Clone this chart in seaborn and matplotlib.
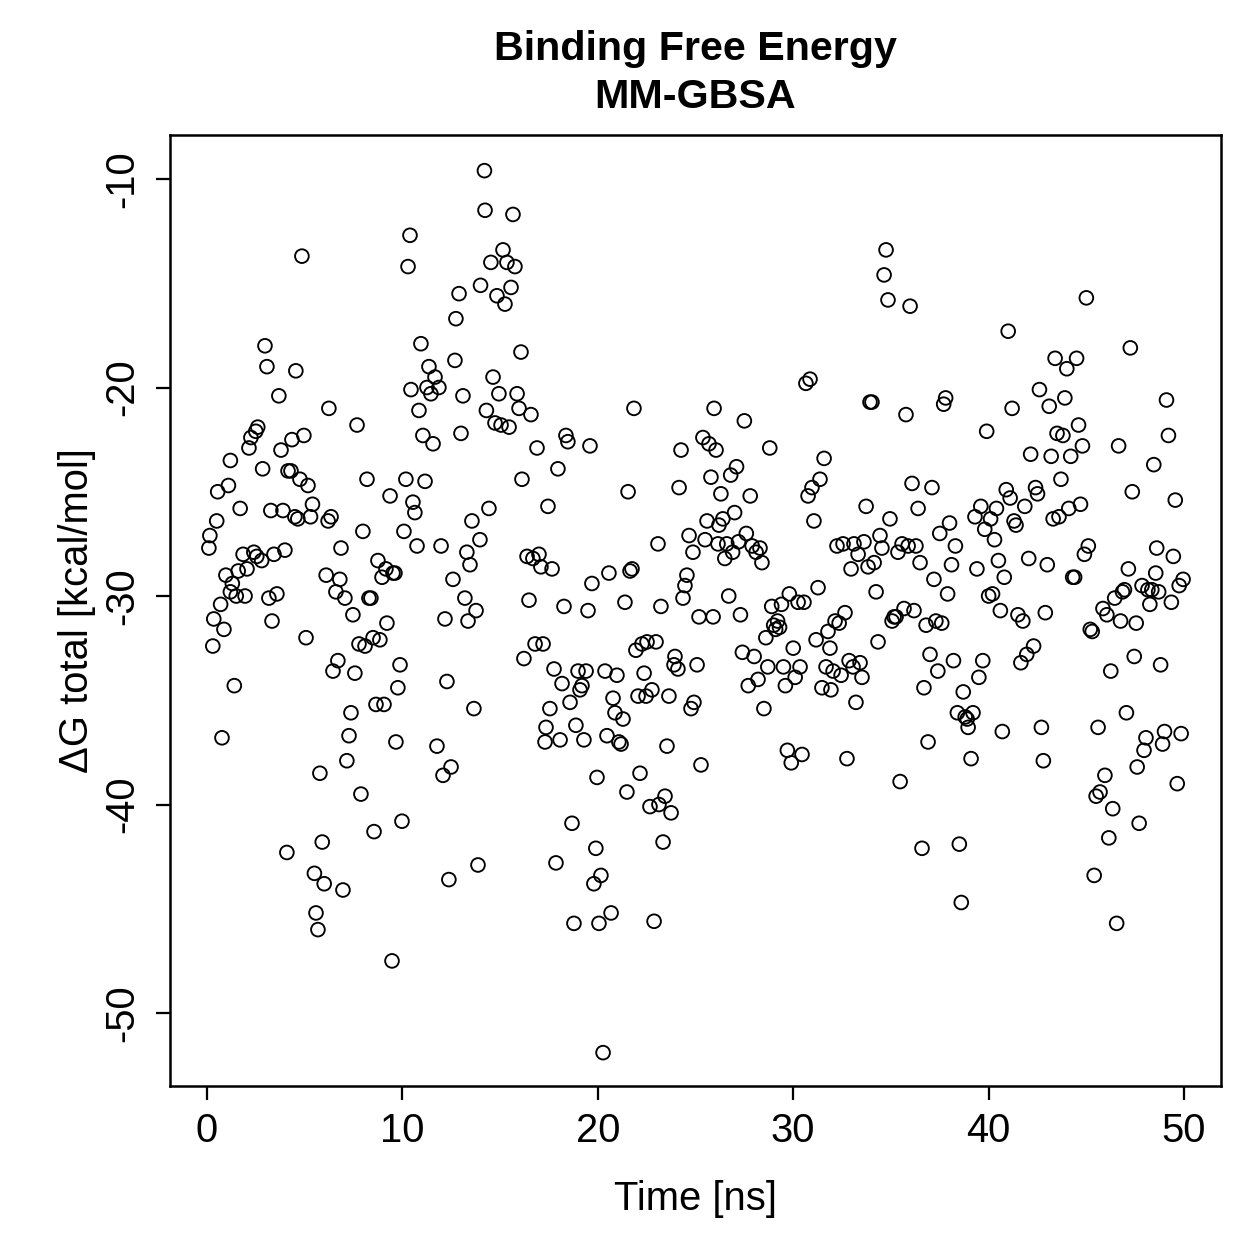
import matplotlib
matplotlib.use("Agg")
import matplotlib.pyplot as plt
import seaborn as sns
import pandas as pd

time_ns = [0.1, 0.15, 0.3, 0.35, 0.5, 0.55, 0.7, 0.77, 0.87, 0.97, 1.1, 1.2, 1.2, 1.3, 1.4, 1.5, 1.6, 1.7, 1.85, 1.95,
           2.05, 2.15, 2.25, 2.4, 2.5, 2.6, 2.55, 2.8, 2.85, 2.97, 3.07, 3.17, 3.27, 3.33, 3.43, 3.58, 3.68, 3.79, 3.89, 3.99,
           4.09, 4.15, 4.3, 4.35, 4.5, 4.55, 4.65, 4.76, 4.86, 4.96, 5.07, 5.17, 5.3, 5.4, 5.5, 5.58, 5.68, 5.78, 5.9, 6.0,
           6.1, 6.24, 6.2, 6.35, 6.45, 6.6, 6.7, 6.8, 6.86, 6.96, 7.06, 7.16, 7.27, 7.37, 7.47, 7.57, 7.68, 7.78, 7.88, 7.98,
           8.09, 8.19, 8.29, 8.39, 8.5, 8.55, 8.65, 8.75, 8.85, 8.96, 9.06, 9.16, 9.21, 9.37, 9.47, 9.52, 9.62, 9.67, 9.77, 9.88,
           9.98, 10.08, 10.18, 10.29, 10.39, 10.44, 10.54, 10.64, 10.75, 10.85, 10.95, 11.05, 11.16, 11.26, 11.36, 11.46, 11.57, 11.67, 11.77, 11.87,
           11.98, 12.08, 12.18, 12.28, 12.38, 12.49, 12.59, 12.69, 12.74, 12.9, 13.0, 13.1, 13.2, 13.3, 13.36, 13.46, 13.56, 13.66, 13.77, 13.87,
           13.97, 14.0, 14.2, 14.23, 14.3, 14.43, 14.53, 14.64, 14.74, 14.84, 14.94, 15.05, 15.15, 15.25, 15.35, 15.46, 15.56, 15.66, 15.76, 15.87,
           15.97, 16.07, 16.12, 16.22, 16.38, 16.48, 16.58, 16.68, 16.79, 16.89, 16.99, 17.09, 17.2, 17.3, 17.35, 17.45, 17.55, 17.66, 17.76, 17.86,
           17.96, 18.07, 18.17, 18.27, 18.37, 18.47, 18.58, 18.68, 18.78, 18.88, 18.99, 19.09, 19.19, 19.29, 19.4, 19.5, 19.6, 19.7, 19.8, 19.9,
           19.96, 20.06, 20.16, 20.27, 20.37, 20.47, 20.57, 20.68, 20.78, 20.88, 20.98, 21.08, 21.19, 21.29, 21.39, 21.49, 21.55, 21.65, 21.75, 21.85,
           21.95, 22.06, 22.16, 22.26, 22.37, 22.47, 22.52, 22.67, 22.77, 22.88, 22.98, 23.08, 23.13, 23.23, 23.34, 23.44, 23.54, 23.64, 23.75, 23.9,
           23.95, 24.1, 24.16, 24.26, 24.36, 24.46, 24.56, 24.67, 24.77, 24.87, 24.92, 25.08, 25.18, 25.28, 25.38, 25.49, 25.59, 25.69, 25.79, 25.9,
           25.95, 26.05, 26.15, 26.2, 26.3, 26.4, 26.5, 26.6, 26.7, 26.8, 26.9, 27.0, 27.1, 27.2, 27.3, 27.4, 27.5, 27.6, 27.7, 27.8,
           27.9, 28.0, 28.1, 28.2, 28.3, 28.4, 28.5, 28.6, 28.7, 28.8, 28.9, 29.0, 29.1, 29.2, 29.3, 29.4, 29.5, 29.6, 29.7, 29.8,
           29.9, 30.0, 30.1, 30.25, 30.35, 30.45, 30.55, 30.65, 30.76, 30.86, 30.96, 31.06, 31.17, 31.27, 31.37, 31.47, 31.58, 31.68, 31.78, 31.88,
           31.93, 32.04, 32.14, 32.24, 32.35, 32.45, 32.55, 32.65, 32.75, 32.86, 32.96, 33.06, 33.11, 33.21, 33.32, 33.42, 33.52, 33.62, 33.73, 33.83,
           33.93, 34.03, 34.14, 34.24, 34.34, 34.44, 34.54, 34.65, 34.75, 34.85, 34.95, 35.06, 35.16, 35.26, 35.36, 35.47, 35.57, 35.67, 35.77, 35.88,
           35.98, 36.08, 36.18, 36.28, 36.39, 36.49, 36.59, 36.69, 36.8, 36.9, 37.0, 37.1, 37.2, 37.3, 37.4, 37.5, 37.6, 37.7, 37.8, 37.9,
           38.0, 38.1, 38.2, 38.3, 38.4, 38.5, 38.6, 38.7, 38.8, 38.9, 38.95, 39.1, 39.2, 39.3, 39.4, 39.5, 39.6, 39.7, 39.8, 39.9,
           40.0, 40.1, 40.2, 40.3, 40.4, 40.5, 40.6, 40.7, 40.8, 40.9, 41.0, 41.1, 41.2, 41.3, 41.4, 41.5, 41.65, 41.75, 41.85, 41.95,
           42.05, 42.15, 42.3, 42.4, 42.5, 42.6, 42.7, 42.8, 42.9, 43.0, 43.1, 43.2, 43.3, 43.4, 43.5, 43.6, 43.7, 43.8, 43.9, 44.0,
           44.1, 44.2, 44.3, 44.4, 44.5, 44.6, 44.7, 44.8, 44.9, 45.0, 45.1, 45.2, 45.3, 45.4, 45.5, 45.6, 45.7, 45.85, 45.95, 46.05,
           46.15, 46.25, 46.35, 46.45, 46.55, 46.65, 46.75, 46.85, 46.95, 47.05, 47.15, 47.25, 47.35, 47.45, 47.55, 47.6, 47.7, 47.85, 47.95, 48.05,
           48.15, 48.25, 48.35, 48.45, 48.55, 48.6, 48.7, 48.8, 48.9, 49.0, 49.1, 49.2, 49.35, 49.45, 49.55, 49.65, 49.75, 49.85, 49.95]

delta_g = [-27.7, -27.1, -32.4, -31.1, -26.4, -25.0, -30.4, -36.8, -31.6, -29.0, -24.7, -23.5, -29.8, -29.4, -34.3, -30.0, -28.8, -25.8, -28.0, -30.0,
           -28.7, -22.9, -22.4, -27.9, -22.1, -21.9, -28.1, -28.3, -23.9, -18.0, -19.0, -30.1, -25.9, -31.2, -28.0, -29.9, -20.4, -23.0, -25.9, -27.8,
           -42.3, -24.0, -24.0, -22.5, -26.2, -19.2, -26.3, -24.4, -13.7, -22.3, -32.0, -24.7, -26.2, -25.6, -43.3, -45.2, -46.0, -38.5, -41.8, -43.8,
           -29.0, -21.0, -26.4, -26.2, -33.6, -29.8, -33.1, -29.2, -27.7, -44.1, -30.1, -37.9, -36.7, -35.6, -30.9, -33.7, -21.8, -32.3, -39.5, -26.9,
           -32.4, -24.4, -30.1, -30.1, -32.0, -41.3, -35.2, -28.3, -32.1, -29.1, -35.2, -28.7, -31.3, -25.2, -47.5, -28.9, -28.9, -37.0, -34.4, -33.3,
           -40.8, -26.9, -24.4, -14.2, -12.7, -20.1, -25.5, -26.0, -27.6, -21.1, -17.9, -22.3, -24.5, -20.0, -19.0, -20.3, -22.7, -19.5, -37.2, -20.0,
           -27.6, -38.6, -31.1, -34.1, -43.6, -38.2, -29.2, -18.7, -16.7, -15.5, -22.2, -20.4, -30.1, -27.9, -31.2, -28.5, -26.4, -35.4, -30.7, -42.9,
           -27.3, -15.1, -9.6, -11.5, -21.1, -25.8, -14.0, -19.5, -21.7, -15.6, -20.3, -21.8, -13.4, -16.0, -14.0, -21.9, -15.2, -11.7, -14.2, -20.3,
           -21.0, -18.3, -24.4, -33.0, -28.1, -30.2, -21.3, -28.2, -32.3, -22.9, -28.0, -28.6, -32.3, -37.0, -36.3, -25.7, -35.4, -28.7, -33.5, -42.8,
           -23.9, -36.9, -34.2, -30.5, -22.3, -22.6, -35.1, -40.9, -45.7, -36.2, -33.6, -34.5, -34.3, -36.9, -33.6, -30.7, -22.8, -29.4, -43.8, -42.1,
           -38.7, -45.7, -43.4, -51.9, -33.6, -36.7, -28.9, -45.2, -34.9, -35.6, -33.8, -37.0, -37.1, -35.9, -30.3, -39.4, -25.0, -28.8, -28.7, -21.0,
           -32.6, -34.8, -38.5, -32.3, -33.7, -34.8, -32.2, -40.1, -34.5, -45.6, -32.2, -27.5, -40.0, -30.5, -41.8, -39.6, -37.2, -34.8, -40.4, -33.3,
           -32.9, -33.5, -24.8, -23.0, -30.1, -29.5, -29.0, -27.1, -35.4, -27.9, -35.1, -33.3, -31.0, -38.1, -22.4, -27.3, -26.4, -22.7, -24.3, -31.0,
           -21.0, -23.0, -27.5, -26.6, -25.1, -26.3, -28.2, -27.5, -30.0, -24.2, -27.9, -26.0, -23.8, -27.4, -30.9, -32.7, -21.6, -27.0, -34.3, -25.2,
           -27.6, -32.9, -27.9, -34.0, -27.7, -28.4, -35.4, -32.0, -33.4, -22.9, -30.5, -31.4, -31.6, -31.2, -31.5, -30.4, -33.4, -34.3, -37.4, -29.9,
           -38.0, -32.5, -33.9, -30.3, -33.4, -37.6, -30.3, -19.8, -25.2, -19.6, -24.8, -26.4, -32.1, -29.6, -24.4, -34.4, -23.4, -33.4, -31.7, -32.5,
           -34.5, -33.6, -31.2, -27.6, -31.3, -33.8, -27.5, -30.8, -37.8, -33.1, -28.7, -33.4, -27.5, -35.1, -28.0, -33.2, -33.9, -27.4, -25.7, -28.6,
           -20.7, -20.7, -28.4, -29.8, -32.2, -27.1, -27.7, -14.6, -13.4, -15.8, -26.3, -31.2, -31.0, -31.0, -27.9, -38.9, -27.5, -30.6, -21.3, -27.6,
           -16.1, -24.6, -30.7, -27.6, -25.8, -28.4, -42.1, -34.4, -31.4, -37.0, -32.8, -24.8, -29.2, -31.2, -33.6, -27.0, -31.3, -20.8, -20.5, -29.9,
           -26.5, -28.5, -33.1, -27.6, -35.6, -41.9, -44.7, -34.6, -35.8, -35.9, -36.3, -37.8, -35.6, -26.2, -28.7, -33.9, -25.7, -33.1, -26.8, -22.1,
           -30.0, -26.3, -29.9, -27.3, -25.8, -28.3, -30.7, -36.5, -29.1, -24.9, -17.3, -25.3, -21.0, -26.4, -26.6, -30.9, -33.2, -31.2, -25.7, -32.8,
           -28.2, -23.2, -32.4, -24.8, -25.1, -20.1, -36.3, -37.9, -30.8, -28.5, -20.9, -23.3, -26.3, -18.6, -22.2, -26.2, -24.4, -22.3, -20.5, -19.1,
           -25.8, -23.3, -29.1, -29.1, -18.6, -21.8, -25.6, -22.8, -28.0, -15.7, -27.6, -31.6, -31.7, -43.4, -39.6, -36.3, -39.4, -30.6, -38.6, -30.9,
           -41.6, -33.6, -40.2, -30.1, -45.7, -22.8, -31.2, -29.8, -29.7, -35.6, -28.7, -18.1, -25.0, -32.9, -31.3, -38.2, -40.9, -29.5, -37.4, -36.8,
           -29.7, -30.4, -29.7, -23.7, -28.9, -27.7, -29.8, -33.3, -37.1, -36.5, -20.6, -22.3, -30.3, -28.1, -25.4, -39.0, -29.5, -36.6, -29.2]

x_ticks = [0, 10, 20, 30, 40, 50]
y_ticks = [-50, -40, -30, -20, -10]

df = pd.DataFrame({"time": time_ns, "dg": delta_g})

sns.set_theme(style="white")
plt.rcParams["font.family"] = ["Liberation Sans", "DejaVu Sans"]
plt.rcParams["text.color"] = "black"
plt.rcParams["axes.labelcolor"] = "black"
plt.rcParams["xtick.color"] = "black"
plt.rcParams["ytick.color"] = "black"

W = 1259
dpi = 180
fig = plt.figure(figsize=(W / dpi, W / dpi), dpi=dpi)
ax = fig.add_axes([170 / W, 1 - 1086 / W, (1221 - 170) / W, (1086 - 135) / W])

sns.scatterplot(data=df, x="time", y="dg", ax=ax, marker="o", s=30,
                facecolor="none", edgecolor="black", linewidth=0.75, legend=False)

fs = 16
ax.set_xlim(-1.89, 51.89)
ax.set_ylim(-53.5, -7.89)
ax.set_xticks(x_ticks)
ax.set_yticks(y_ticks)
ax.set_xticklabels([str(t) for t in x_ticks], fontsize=fs)
ax.set_yticklabels([str(t) for t in y_ticks], fontsize=fs, rotation=90, va="center")
ax.tick_params(axis="both", direction="out", length=5.6, width=0.9, colors="black",
               bottom=True, left=True)
ax.tick_params(axis="x", pad=5)
ax.tick_params(axis="y", pad=6)
for sp in ax.spines.values():
    sp.set_visible(True)
    sp.set_color("black")
    sp.set_linewidth(1.0)

ax.set_xlabel("Time [ns]", fontsize=fs, labelpad=12, color="black")
ax.set_ylabel("ΔG total [kcal/mol]", fontsize=fs, labelpad=3, color="black")
ax.set_title("Binding Free Energy\nMM-GBSA", fontsize=16.5, fontweight="bold", pad=11,
             linespacing=1.3, color="black")

fig.savefig("out.png", dpi=dpi, facecolor="white")
